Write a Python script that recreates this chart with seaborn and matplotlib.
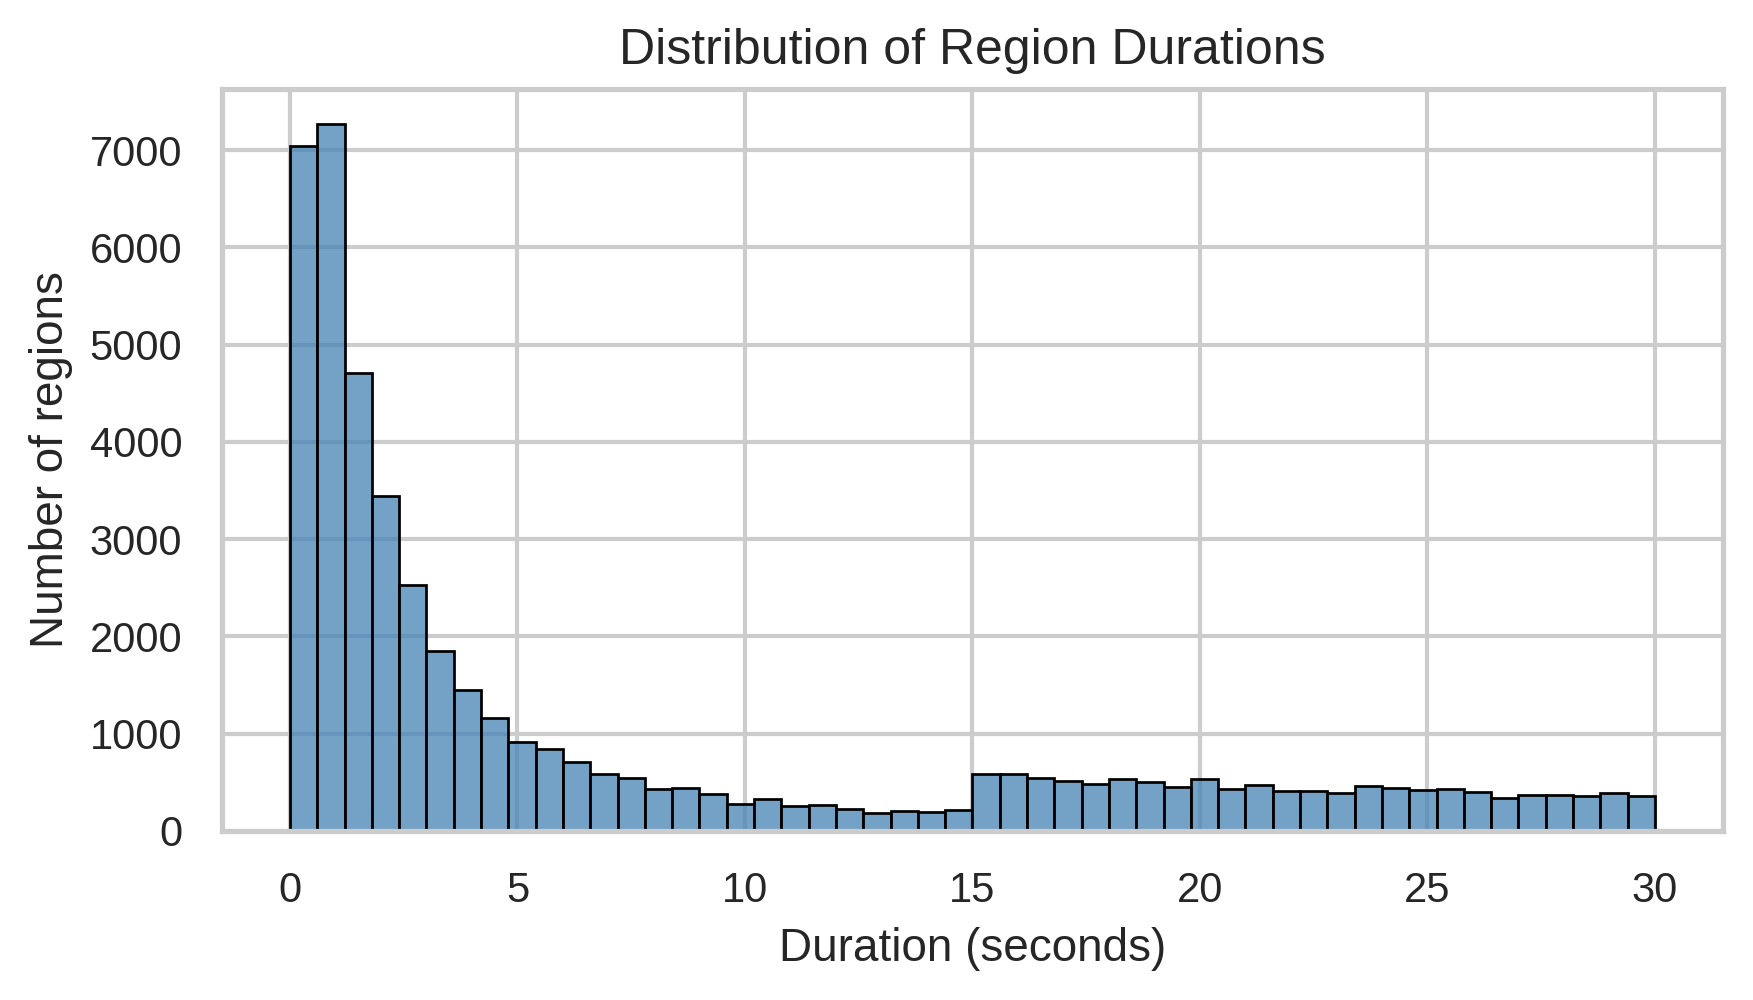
import numpy as np
import pandas as pd
import matplotlib
matplotlib.use('Agg')
import matplotlib.pyplot as plt
import seaborn as sns

# Histogram counts (50 bins of 0.6 s from 0 to 30 s)
bin_edges = np.linspace(0, 30, 51)
counts = [7040, 7265, 4711, 3448, 2530, 1855, 1445, 1160, 911, 842,
          705, 582, 545, 428, 442, 380, 274, 325, 257, 267,
          223, 182, 202, 192, 212, 582, 582, 545, 510, 483,
          534, 500, 452, 534, 428, 469, 408, 410, 387, 462,
          442, 418, 432, 397, 339, 370, 370, 356, 390, 360]

bin_centers = (bin_edges[:-1] + bin_edges[1:]) / 2
df = pd.DataFrame({'duration': bin_centers, 'count': counts})

sns.set_theme(style='whitegrid', context='notebook')
plt.rcParams['font.family'] = ['Liberation Sans', 'DejaVu Sans']

fig = plt.figure(figsize=(1753 / 300, 1000 / 300), dpi=300)
ax = fig.add_axes([0.1265, 0.169, 0.8565, 0.742])

sns.histplot(
    data=df,
    x='duration',
    weights='count',
    bins=50,
    binrange=(0, 30),
    color='steelblue',
    edgecolor='black',
    alpha=0.75,
    ax=ax,
)

ax.set_title('Distribution of Region Durations', fontsize=12, pad=6)
ax.set_xlabel('Duration (seconds)', fontsize=11)
ax.set_ylabel('Number of regions', fontsize=11)
ax.tick_params(labelsize=10)

fig.savefig('out.png', dpi=300)
